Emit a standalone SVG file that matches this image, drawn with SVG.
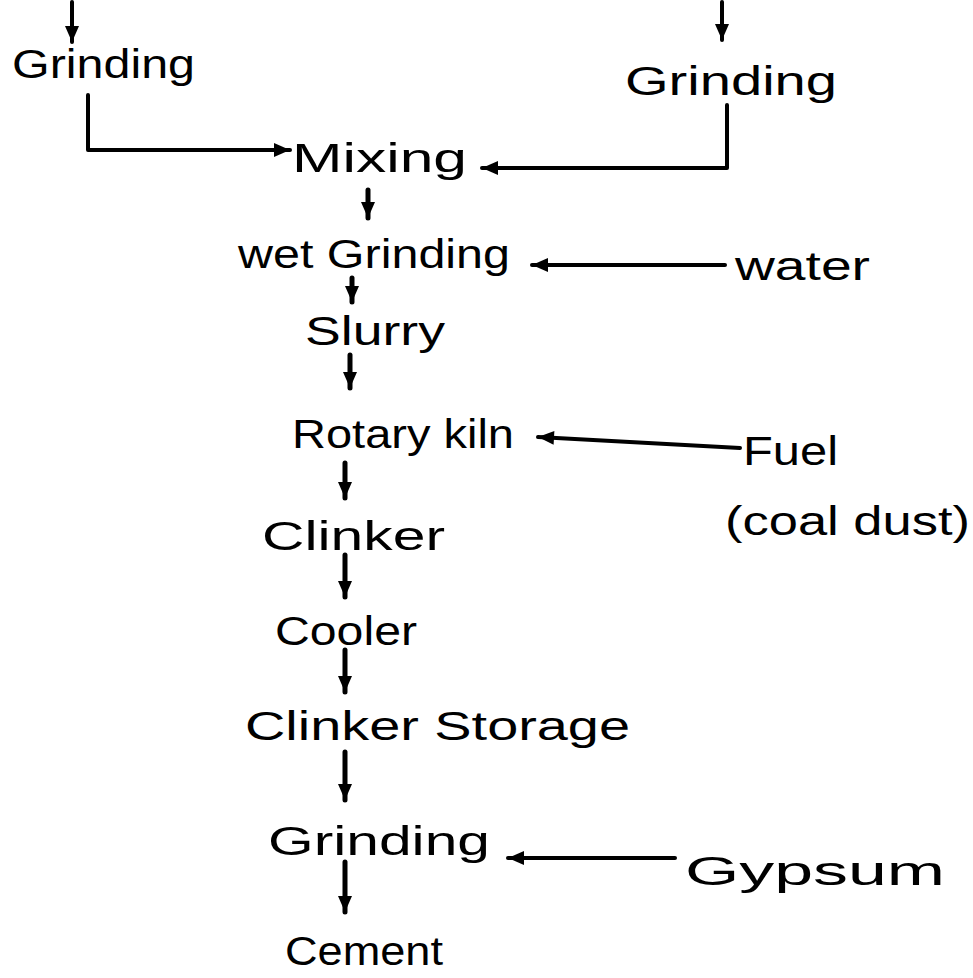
<svg xmlns="http://www.w3.org/2000/svg" width="973" height="978" viewBox="0 0 973 978">
<defs>
<style>
.t{font-family:"Liberation Sans",Arial,sans-serif;font-size:40px;fill:#000;}
.c{fill:none;stroke:#000;stroke-width:4;stroke-linecap:round;stroke-linejoin:round;}
.v{stroke-width:5;}
</style>
<marker id="ah" markerUnits="userSpaceOnUse" markerWidth="20" markerHeight="20" viewBox="0 0 20 20" refX="18" refY="10" orient="auto">
<path d="M2,3 L18,10 L2,17 Z" fill="#000"/>
</marker>
</defs>
<rect width="973" height="978" fill="#fff"/>
<g id="connectors">
<path class="c" d="M72,2 V42" marker-end="url(#ah)"/>
<path class="c" d="M722,2 V40" marker-end="url(#ah)"/>
<path class="c" d="M88,95 V150 H290" marker-end="url(#ah)"/>
<path class="c" d="M727,105 V168 H482" marker-end="url(#ah)"/>
<path class="c v" d="M368,190 V218" marker-end="url(#ah)"/>
<path class="c" d="M725,265 H532" marker-end="url(#ah)"/>
<path class="c v" d="M352,278 V302" marker-end="url(#ah)"/>
<path class="c v" d="M350,355 V388" marker-end="url(#ah)"/>
<path class="c" d="M740,448 L538,437" marker-end="url(#ah)"/>
<path class="c v" d="M345,463 V498" marker-end="url(#ah)"/>
<path class="c v" d="M345,555 V597" marker-end="url(#ah)"/>
<path class="c v" d="M345,650 V692" marker-end="url(#ah)"/>
<path class="c v" d="M345,752 V800" marker-end="url(#ah)"/>
<path class="c" d="M675,858 H508" marker-end="url(#ah)"/>
<path class="c v" d="M345,862 V912" marker-end="url(#ah)"/>
</g>
<g id="grinding-left"><text class="t" x="12" y="78" textLength="183" lengthAdjust="spacingAndGlyphs">Grinding</text></g>
<g id="grinding-right"><text class="t" x="625" y="95" textLength="212" lengthAdjust="spacingAndGlyphs">Grinding</text></g>
<g id="mixing"><text class="t" x="292" y="172" textLength="175" lengthAdjust="spacingAndGlyphs">Mixing</text></g>
<g id="wet-grinding"><text class="t" x="238" y="268" textLength="272" lengthAdjust="spacingAndGlyphs">wet Grinding</text></g>
<g id="water"><text class="t" x="735" y="280" textLength="135" lengthAdjust="spacingAndGlyphs">water</text></g>
<g id="slurry"><text class="t" x="305" y="345" textLength="140" lengthAdjust="spacingAndGlyphs">Slurry</text></g>
<g id="rotary-kiln"><text class="t" x="292" y="448" textLength="222" lengthAdjust="spacingAndGlyphs">Rotary kiln</text></g>
<g id="fuel">
<text class="t" x="743" y="465" textLength="95" lengthAdjust="spacingAndGlyphs">Fuel</text>
<text class="t" x="725" y="535" textLength="245" lengthAdjust="spacingAndGlyphs">(coal dust)</text>
</g>
<g id="clinker"><text class="t" x="262" y="550" textLength="183" lengthAdjust="spacingAndGlyphs">Clinker</text></g>
<g id="cooler"><text class="t" x="275" y="645" textLength="142" lengthAdjust="spacingAndGlyphs">Cooler</text></g>
<g id="clinker-storage"><text class="t" x="245" y="740" textLength="385" lengthAdjust="spacingAndGlyphs">Clinker Storage</text></g>
<g id="grinding-final"><text class="t" x="268" y="855" textLength="222" lengthAdjust="spacingAndGlyphs">Grinding</text></g>
<g id="gypsum"><text class="t" x="685" y="885" textLength="260" lengthAdjust="spacingAndGlyphs">Gypsum</text></g>
<g id="cement"><text class="t" x="285" y="965" textLength="158" lengthAdjust="spacingAndGlyphs">Cement</text></g>
</svg>
